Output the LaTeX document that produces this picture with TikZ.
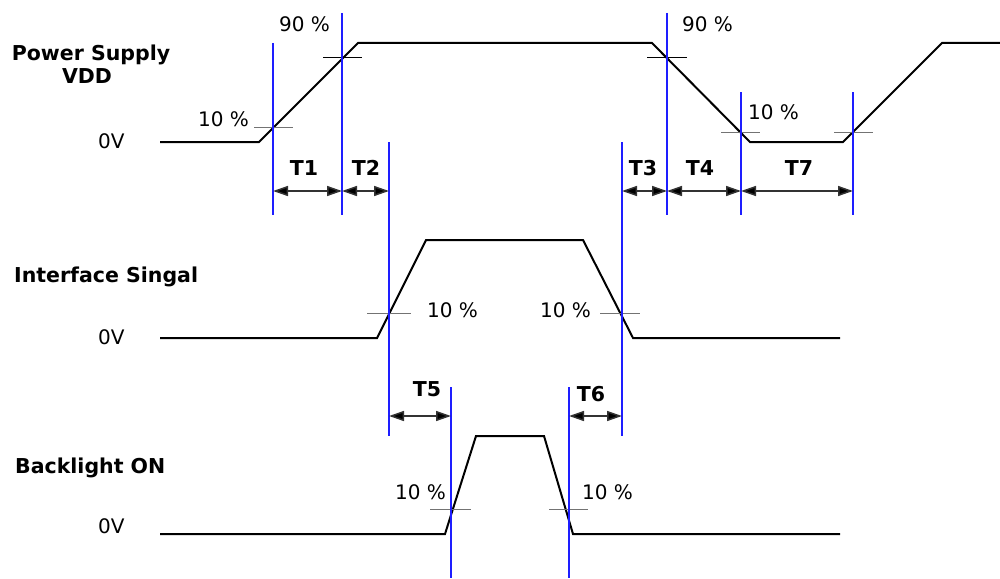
\documentclass[tikz,border=0pt]{standalone}
\usepackage{fontspec}
\setmainfont{DejaVu Sans}
\usetikzlibrary{arrows.meta}
\begin{document}
\begin{tikzpicture}[x=1pt,y=-1pt,
  wave/.style={line width=2pt,black,line join=miter},
  guide/.style={line width=1.1pt,draw={rgb,255:red,30;green,30;blue,255}},
  tickten/.style={line width=1pt,draw=black!55},
  ticknine/.style={line width=1pt,draw=black},
  dimarrow/.style={line width=1.5pt,draw=black!80,{Triangle[length=15pt,width=10pt,fill=black]}-{Triangle[length=15pt,width=10pt,fill=black]}},
  lbl/.style={inner sep=0pt,anchor=base west,font=\fontsize{20}{23}\selectfont},
  sig/.style={inner sep=0pt,anchor=base west,font=\fontsize{20.5}{24}\selectfont\bfseries},
  tl/.style={inner sep=0pt,anchor=base,font=\fontsize{20.5}{24}\selectfont\bfseries}]
\useasboundingbox (0,0) rectangle (1000,578);

% signal names
\node[inner sep=0pt,anchor=base,font=\fontsize{20.5}{24}\selectfont\bfseries] (ps) at (91,60) {Power Supply};
\node[inner sep=0pt,anchor=base,font=\fontsize{20.5}{24}\selectfont\bfseries] (vdd) at (87,83) {VDD};
\node[sig] (ifs) at (14,282) {Interface Singal};
\node[sig] (bl) at (15,473) {Backlight ON};
\node[lbl] (z1) at (98,148) {0V};
\node[lbl] (z2) at (98,344) {0V};
\node[lbl] (z3) at (98,533) {0V};

% waveforms
\draw[wave] (160,142) -- (259,142) -- (358,43) -- (652,43) -- (750,142) -- (843,142) -- (942,43) -- (1000,43);
\draw[wave] (160,338) -- (377,338) -- (426,240) -- (583,240) -- (633,338) -- (840,338);
\draw[wave] (160,534) -- (445,534) -- (476,436) -- (544,436) -- (573,534) -- (840,534);

% level ticks
\draw[tickten] (254,127) -- (293,127);
\draw[ticknine] (323,58) -- (362,58);
\draw[ticknine] (647,58) -- (687,58);
\draw[tickten] (721,132) -- (760,132);
\draw[tickten] (834,132) -- (873,132);
\draw[tickten] (367,313) -- (411,313);
\draw[tickten] (600,313) -- (640,313);
\draw[tickten] (430,509) -- (471,509);
\draw[tickten] (549,509) -- (588,509);

% percent labels
\node[lbl] (p1) at (279,32) {90 \%};
\node[lbl] (p2) at (198,126) {10 \%};
\node[lbl] (p3) at (682,32) {90 \%};
\node[lbl] (p4) at (748,119) {10 \%};
\node[lbl] (p5) at (427,317) {10 \%};
\node[lbl] (p6) at (540,317) {10 \%};
\node[lbl] (p7) at (395,499) {10 \%};
\node[lbl] (p8) at (582,499) {10 \%};

% guide lines
\coordinate (g1t) at (273,43);  \coordinate (g1b) at (273,215);
\coordinate (g2t) at (342,13);  \coordinate (g2b) at (342,215);
\coordinate (g3t) at (389,142); \coordinate (g3b) at (389,436);
\coordinate (g4t) at (622,142); \coordinate (g4b) at (622,436);
\coordinate (g5t) at (667,13);  \coordinate (g5b) at (667,215);
\coordinate (g6t) at (741,92);  \coordinate (g6b) at (741,215);
\coordinate (g7t) at (853,92);  \coordinate (g7b) at (853,215);
\coordinate (g8t) at (451,387); \coordinate (g8b) at (451,578);
\coordinate (g9t) at (569,387); \coordinate (g9b) at (569,578);
\foreach \g in {1,...,9} {\draw[guide] (g\g t) -- (g\g b);}

% timing arrows
\coordinate (a1) at (273,191);
\coordinate (a2) at (342,191);
\coordinate (a3) at (389,191);
\coordinate (a4) at (622,191);
\coordinate (a5) at (667,191);
\coordinate (a6) at (741,191);
\coordinate (a7) at (853,191);
\coordinate (b1) at (389,416);
\coordinate (b2) at (451,416);
\coordinate (b3) at (569,416);
\coordinate (b4) at (622,416);
\draw[dimarrow] (a1) -- (a2);
\draw[dimarrow] (a2) -- (a3);
\draw[dimarrow] (a4) -- (a5);
\draw[dimarrow] (a5) -- (a6);
\draw[dimarrow] (a6) -- (a7);
\draw[dimarrow] (b1) -- (b2);
\draw[dimarrow] (b3) -- (b4);

\node[tl] (T1) at (304,175) {T1};
\node[tl] (T2) at (366,175) {T2};
\node[tl] (T3) at (643,175) {T3};
\node[tl] (T4) at (700,175) {T4};
\node[tl] (T7) at (799,175) {T7};
\node[tl] (T5) at (427,396) {T5};
\node[tl] (T6) at (591,401) {T6};
\end{tikzpicture}
\end{document}
